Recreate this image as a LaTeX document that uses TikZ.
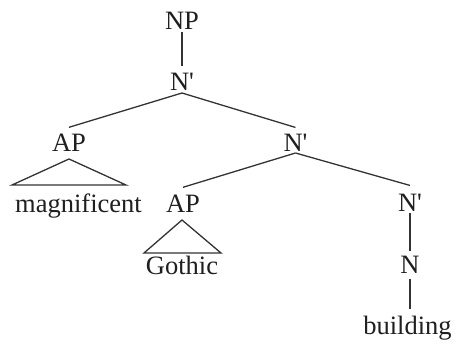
\documentclass[tikz,border=0pt]{standalone}
\usepackage{fontspec}
\setmainfont{Liberation Serif}[Ligatures=TeXOff]
\begin{document}
\begin{tikzpicture}[x=1pt,y=-1pt,
  lab/.style={inner sep=0pt, anchor=base, font=\fontsize{26.5}{30}\selectfont, text=black!88},
  br/.style={line width=1.3pt, draw=black!80}]
\useasboundingbox (0,0) rectangle (459,347);
\node[lab] (NP)  at (182,30)    {NP};
\node[lab] (N1)  at (182,91)    {N'};
\node[lab] (AP1) at (69,152)    {AP};
\node[lab] (N2)  at (295.5,152) {N'};
\node[lab] (mag) at (78.5,213)  {magnificent};
\node[lab] (AP2) at (183,213)   {AP};
\node[lab] (Got) at (182,275)   {Gothic};
\node[lab] (N3)  at (410,212)   {N'};
\node[lab] (N4)  at (410,274)   {N};
\node[lab] (bld) at (407.5,335) {building};
\draw[br] ([yshift=-2pt]NP.base) -- ([yshift=7pt]N1.north);
\draw[br] ([yshift=-2pt]N1.base) -- ([yshift=7pt]AP1.north);
\draw[br] ([yshift=-2pt]N1.base) -- ([yshift=7pt]N2.north);
\draw[br] ([yshift=-1pt]N2.base) -- ([yshift=8pt]AP2.north);
\draw[br] ([yshift=-1pt]N2.base) -- ([yshift=9pt]N3.north);
\draw[br] ([yshift=-1pt]N3.base) -- ([yshift=5pt]N4.north);
\draw[br] ([yshift=-5pt]N4.base) -- ([yshift=7pt]N4.base |- bld.north);
\draw[br] ([yshift=-7pt]AP1.base) -- ([xshift=-57pt,yshift=-33pt]AP1.base) -- ([xshift=57pt,yshift=-33pt]AP1.base) -- cycle;
\draw[br] ([xshift=-1pt,yshift=-7pt]AP2.base) -- ([xshift=-39pt,yshift=-40pt]AP2.base) -- ([xshift=38pt,yshift=-40pt]AP2.base) -- cycle;
\end{tikzpicture}
\end{document}
